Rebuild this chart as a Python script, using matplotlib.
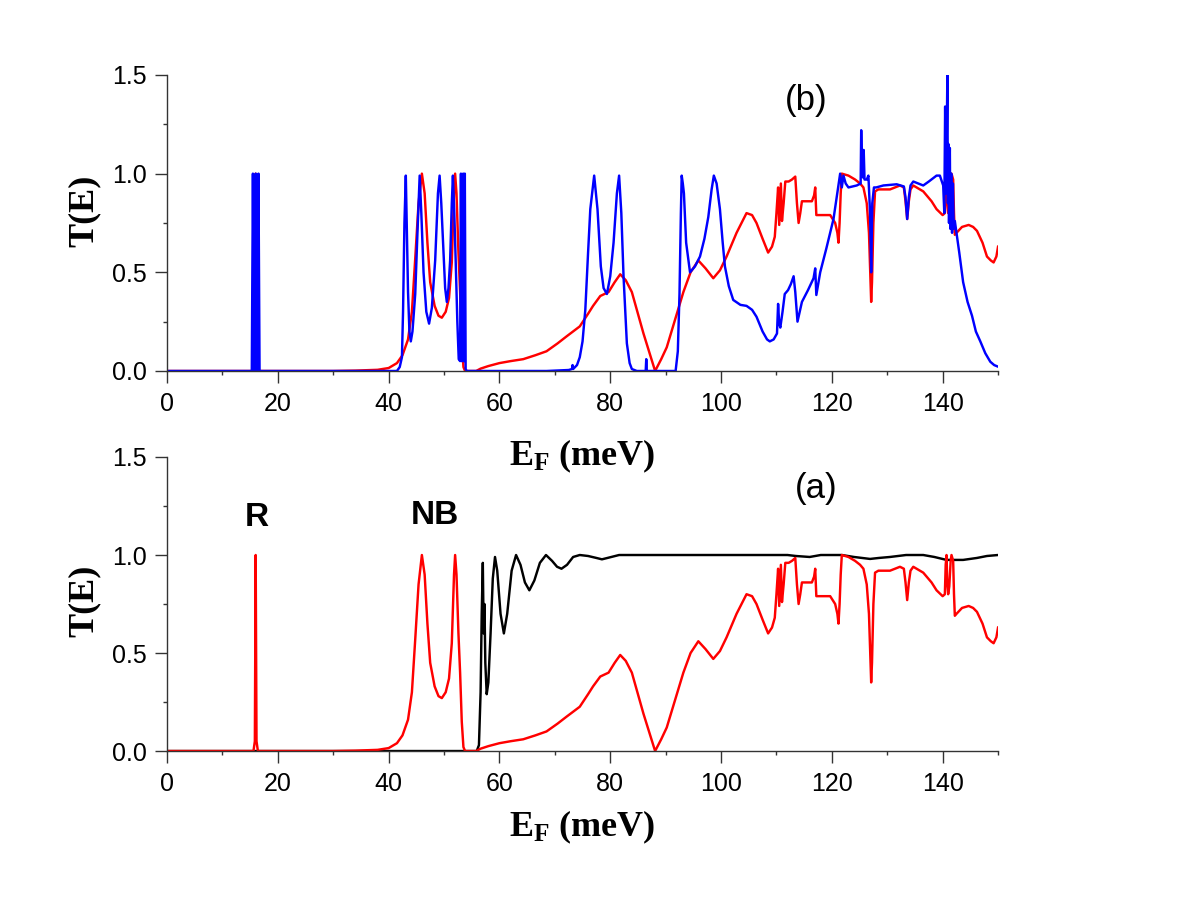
import matplotlib
matplotlib.use("Agg")
import matplotlib.pyplot as plt
import numpy as np
from matplotlib.ticker import MultipleLocator

# ---------------- data ----------------
red_E = [0, 15.6, 15.85, 16.0, 16.15, 16.4, 30, 34, 38, 40, 41.5, 42.5, 43.5, 44.2, 44.8, 45.4, 46.0, 46.5,
         47.0, 47.5, 48.3, 49.0, 49.6, 50.3, 50.9, 51.4, 51.8, 52.0, 52.25, 52.6, 52.9, 53.2, 53.5, 53.8,
         55.8, 56.6, 58, 60, 62, 64.3, 66.5, 68.5, 70.5, 72.1, 74.5, 76, 76.9, 78.2, 79.7, 80.8, 81.8, 82.8,
         83.9, 85, 86.0, 87.1, 88.1, 89.2, 90.2, 91.7, 93.2, 94.5, 95.9, 97.2, 98.6, 99.8, 101.0, 102.8,
         104.6, 105.6, 106.4, 107.5, 108.5, 109.2, 109.7, 110.0, 110.3, 110.5, 110.8, 111.0, 111.3, 111.6,
         112.2, 112.8, 113.4, 113.7, 114.0, 114.3, 114.6, 116.4, 116.8, 117.0, 117.2, 119.7, 120.6, 121.0,
         121.2, 121.4, 121.6, 121.8, 123.0, 124.2, 125.1, 125.7, 126.3, 126.7, 127.0, 127.1, 127.25, 127.5,
         127.8, 128.4, 130.5, 132.3, 133.0, 133.3, 133.6, 133.9, 134.2, 134.7, 136.5, 138.0, 138.9, 140.0,
         140.4, 140.55, 140.7, 140.85, 141.0, 141.2, 141.45, 141.6, 141.9, 142.05, 142.2, 142.5, 143.5,
         144.7, 145.5, 146.2, 147.2, 148.0, 148.7, 149.2, 149.7, 150]
red_T = [0, 0, 0.05, 1.0, 0.05, 0, 0, 0.002, 0.006, 0.015, 0.04, 0.08, 0.16, 0.3, 0.57, 0.85, 1.0, 0.9,
         0.65, 0.45, 0.33, 0.28, 0.27, 0.3, 0.37, 0.55, 0.9, 1.0, 0.9, 0.6, 0.4, 0.15, 0.02, 0,
         0, 0.012, 0.025, 0.04, 0.05, 0.06, 0.08, 0.10, 0.14, 0.175, 0.226, 0.29, 0.33, 0.38, 0.40, 0.45, 0.49, 0.46,
         0.40, 0.29, 0.19, 0.09, 0.0, 0.06, 0.12, 0.26, 0.40, 0.50, 0.56, 0.52, 0.47, 0.51, 0.58, 0.70,
         0.80, 0.79, 0.75, 0.67, 0.60, 0.63, 0.68, 0.80, 0.93, 0.74, 0.95, 0.76, 0.85, 0.96,
         0.96, 0.97, 0.985, 0.85, 0.75, 0.80, 0.86, 0.86, 0.89, 0.93, 0.79, 0.79, 0.75, 0.70,
         0.65, 0.75, 0.90, 1.0, 0.99, 0.97, 0.95, 0.93, 0.85, 0.70, 0.45, 0.35, 0.45, 0.75,
         0.91, 0.92, 0.92, 0.94, 0.93, 0.86, 0.77, 0.86, 0.92, 0.94, 0.91, 0.86, 0.82, 0.79,
         0.80, 0.95, 1.0, 0.85, 0.80, 0.84, 0.97, 1.0, 0.97, 0.80, 0.69, 0.70, 0.73,
         0.74, 0.73, 0.71, 0.65, 0.58, 0.56, 0.55, 0.58, 0.63]

black_E = [0, 55.9, 56.3, 56.6, 56.8, 57.0, 57.15, 57.3, 57.45, 57.7, 58.0, 58.4, 58.8, 59.2, 59.6, 60.2,
           60.8, 61.4, 62.2, 63.0, 63.8, 64.6, 65.4, 66.3, 67.3, 68.4, 69.5, 70.4, 71.2, 72.2, 73.3, 74.5,
           76, 77.5, 78.5, 79.5, 81.6, 100, 112, 113.5, 116, 118, 121.8, 124, 126.9, 128.5, 130.5, 133.4,
           136.5, 138.5, 140.7, 143.7, 146.2, 148, 150]
black_T = [0, 0, 0.03, 0.3, 0.7, 0.96, 0.6, 0.75, 0.45, 0.29, 0.35, 0.6, 0.88, 0.99, 0.92, 0.70,
           0.60, 0.70, 0.92, 1.0, 0.95, 0.86, 0.82, 0.87, 0.96, 1.0, 0.97, 0.94, 0.93, 0.95, 0.99, 1.0,
           0.995, 0.985, 0.978, 0.985, 1.0, 1.0, 1.0, 0.995, 0.99, 1.0, 1.0, 0.99, 0.98, 0.985, 0.99, 1.0,
           1.0, 0.99, 0.975, 0.975, 0.985, 0.995, 1.0]

blue_E = [0, 15.3, 15.5, 15.7, 15.8, 16.0, 16.2, 16.3, 16.5, 16.7, 41.5, 42.0, 42.4, 42.6, 42.85, 43.1,
          43.3, 43.5, 43.75, 44.0, 44.3, 44.8, 45.2, 45.6, 45.9, 46.3, 46.8, 47.3, 47.8, 48.4, 48.9, 49.2,
          49.5, 49.9, 50.2, 50.5, 50.8, 51.1, 51.4, 51.6, 51.85, 52.1, 52.4, 52.65, 52.9, 53.05, 53.2, 53.3,
          53.45, 53.6, 53.65, 53.75, 53.9, 54.1, 68.5, 72.5, 73.1, 73.2, 73.3, 74.0, 74.5, 75.0, 75.5, 76.0,
          76.4, 77.1, 77.7, 78.3, 78.8, 79.4, 80.0, 80.6, 81.2, 81.6, 82.0, 82.4, 83.0, 83.5, 83.9, 84.8,
          86.4, 86.5, 86.6, 91.8, 92.2, 92.5, 92.75, 92.9, 93.1, 93.3, 93.7, 94.4, 95.3, 96.2, 97.0, 97.7,
          98.3, 98.7, 99.2, 99.8, 100.3, 100.7, 101.4, 102.2, 103.5, 104.6, 105.6, 106.4, 107.5, 108.3,
          108.8, 109.5, 110.1, 110.3, 110.5, 110.7, 111.1, 111.5, 112.1, 112.6, 113.1, 113.4, 113.8, 114.2,
          114.6, 115.7, 116.7, 117.0, 117.2, 117.9, 119.0, 120.3, 121.2, 121.5, 121.8, 122.1, 122.5, 123.0,
          124.5, 125.2, 125.3, 125.45, 125.55, 125.65, 125.75, 125.9, 126.3, 126.6, 126.9, 127.1, 127.3,
          127.6, 128.0, 129.3, 131.7, 133.0, 133.3, 133.6, 133.9, 134.2, 134.7, 136.5, 137.5, 138.9, 139.5,
          140.1, 140.3, 140.45, 140.6, 140.75, 140.85, 140.95, 141.05, 141.15, 141.3, 141.4, 141.55, 141.7,
          141.85, 142.0, 142.2, 143.0, 143.7, 144.5, 145.3, 146.0, 146.8, 147.7, 148.6, 149.3, 150]
blue_T = [0, 0, 1, 0, 0, 1, 0, 0, 1, 0, 0, 0.02, 0.07, 0.3, 0.75, 0.99,
          0.7, 0.4, 0.2, 0.15, 0.2, 0.39, 0.7, 0.99, 0.8, 0.5, 0.3, 0.24, 0.32, 0.56, 0.9, 0.99,
          0.85, 0.6, 0.42, 0.35, 0.42, 0.56, 0.85, 0.99, 0.8, 0.56, 0.25, 0.06, 0.05, 1.0, 0.05, 0.05,
          1.0, 0.05, 0.05, 1.0, 0.01, 0, 0, 0.005, 0.01, 0.03, 0.01, 0.03, 0.07, 0.15, 0.31, 0.6,
          0.82, 0.99, 0.82, 0.53, 0.42, 0.39, 0.48, 0.65, 0.9, 0.99, 0.8, 0.48, 0.14, 0.04, 0.01, 0,
          0, 0.06, 0, 0, 0.1, 0.39, 0.8, 0.99, 0.95, 0.9, 0.65, 0.50, 0.53, 0.58, 0.67, 0.78,
          0.92, 0.99, 0.95, 0.82, 0.65, 0.53, 0.43, 0.36, 0.335, 0.33, 0.31, 0.275, 0.2, 0.16,
          0.15, 0.16, 0.19, 0.34, 0.24, 0.22, 0.30, 0.39, 0.41, 0.44, 0.48, 0.40, 0.25, 0.30,
          0.35, 0.41, 0.47, 0.52, 0.385, 0.50, 0.62, 0.77, 0.94, 1.0, 0.93, 0.99, 0.95, 0.93,
          0.94, 0.95, 1.22, 1.0, 1.12, 0.98, 1.12, 0.97, 0.97, 0.99, 0.8, 0.5, 0.85,
          0.93, 0.93, 0.94, 0.946, 0.935, 0.88, 0.77, 0.88, 0.94, 0.96, 0.94, 0.96, 0.99, 0.99,
          0.94, 0.8, 1.34, 0.9, 1.2, 1.50, 0.85, 1.15, 0.75, 1.13, 0.72, 1.0, 0.7,
          0.95, 0.72, 0.76, 0.6, 0.45, 0.35, 0.28, 0.2, 0.15, 0.09, 0.047, 0.03, 0.022]

x_ticks = [0, 20, 40, 60, 80, 100, 120, 140]
x_minor = [10, 30, 50, 70, 90, 110, 130, 150]
y_ticks = [0.0, 0.5, 1.0, 1.5]
y_tick_labels = ["0.0", "0.5", "1.0", "1.5"]

# ---------------- figure ----------------
plt.rcParams['font.family'] = ['Liberation Sans', 'DejaVu Sans']
plt.rcParams['mathtext.fontset'] = 'custom'
plt.rcParams['mathtext.bf'] = 'Liberation Serif:bold'
plt.rcParams['mathtext.rm'] = 'Liberation Serif:bold'
plt.rcParams['mathtext.it'] = 'Liberation Serif:bold'

fig = plt.figure(figsize=(12, 9.14), dpi=100)
ax_b = fig.add_axes([0.1392, 0.5941, 0.6925, 0.3239])
ax_a = fig.add_axes([0.1392, 0.1783, 0.6925, 0.3217])
ax_a.patch.set_visible(False)
ax_b.patch.set_visible(False)

lw = 1.75
ax_b.plot(red_E, red_T, color='#ff0000', lw=lw)
ax_b.plot(blue_E, blue_T, color='#0000ff', lw=lw)

ax_a.plot(black_E, black_T, color='black', lw=lw)
ax_a.plot(red_E, red_T, color='#ff0000', lw=lw)

label_font = dict(family=['Liberation Serif'], weight='bold', size=26)

for ax, ylab_y, xlab_y in [(ax_b, 0.54, -0.225), (ax_a, 0.51, -0.195)]:
    ax.set_xlim(0, 150)
    ax.set_ylim(0, 1.5)
    for s in ['top', 'right']:
        ax.spines[s].set_visible(False)
    for s in ['left', 'bottom']:
        ax.spines[s].set_linewidth(1.0)
        ax.spines[s].set_color('#333333')
    ax.set_xticks(x_ticks)
    ax.set_xticks(x_minor, minor=True)
    ax.set_yticks(y_ticks)
    ax.set_yticklabels(y_tick_labels)
    ax.yaxis.set_minor_locator(MultipleLocator(0.25))
    ax.tick_params(axis='both', which='major', direction='out', length=8.4, width=1.0,
                   labelsize=18, color='#333333')
    ax.tick_params(axis='x', which='major', pad=7)
    ax.tick_params(axis='y', which='major', pad=6)
    ax.tick_params(axis='both', which='minor', direction='out', length=3.2, width=1.0, color='#333333')
    ax.set_ylabel('T(E)', **label_font)
    ax.yaxis.set_label_coords(-0.08, ylab_y)
    ax.set_xlabel(r'$\mathbf{E_F}$ (meV)', **label_font)
    ax.xaxis.set_label_coords(0.5, xlab_y)

ax_b.text(115.3, 1.37, '(b)', fontsize=25, ha='center', va='center')
ax_a.text(117.1, 1.34, '(a)', fontsize=25, ha='center', va='center')
ax_a.text(16.2, 1.19, 'R', fontsize=24, fontweight='bold', ha='center', va='center')
ax_a.text(48.4, 1.20, 'NB', fontsize=24, fontweight='bold', ha='center', va='center')

fig.savefig('out.png', dpi=100, facecolor='white')
